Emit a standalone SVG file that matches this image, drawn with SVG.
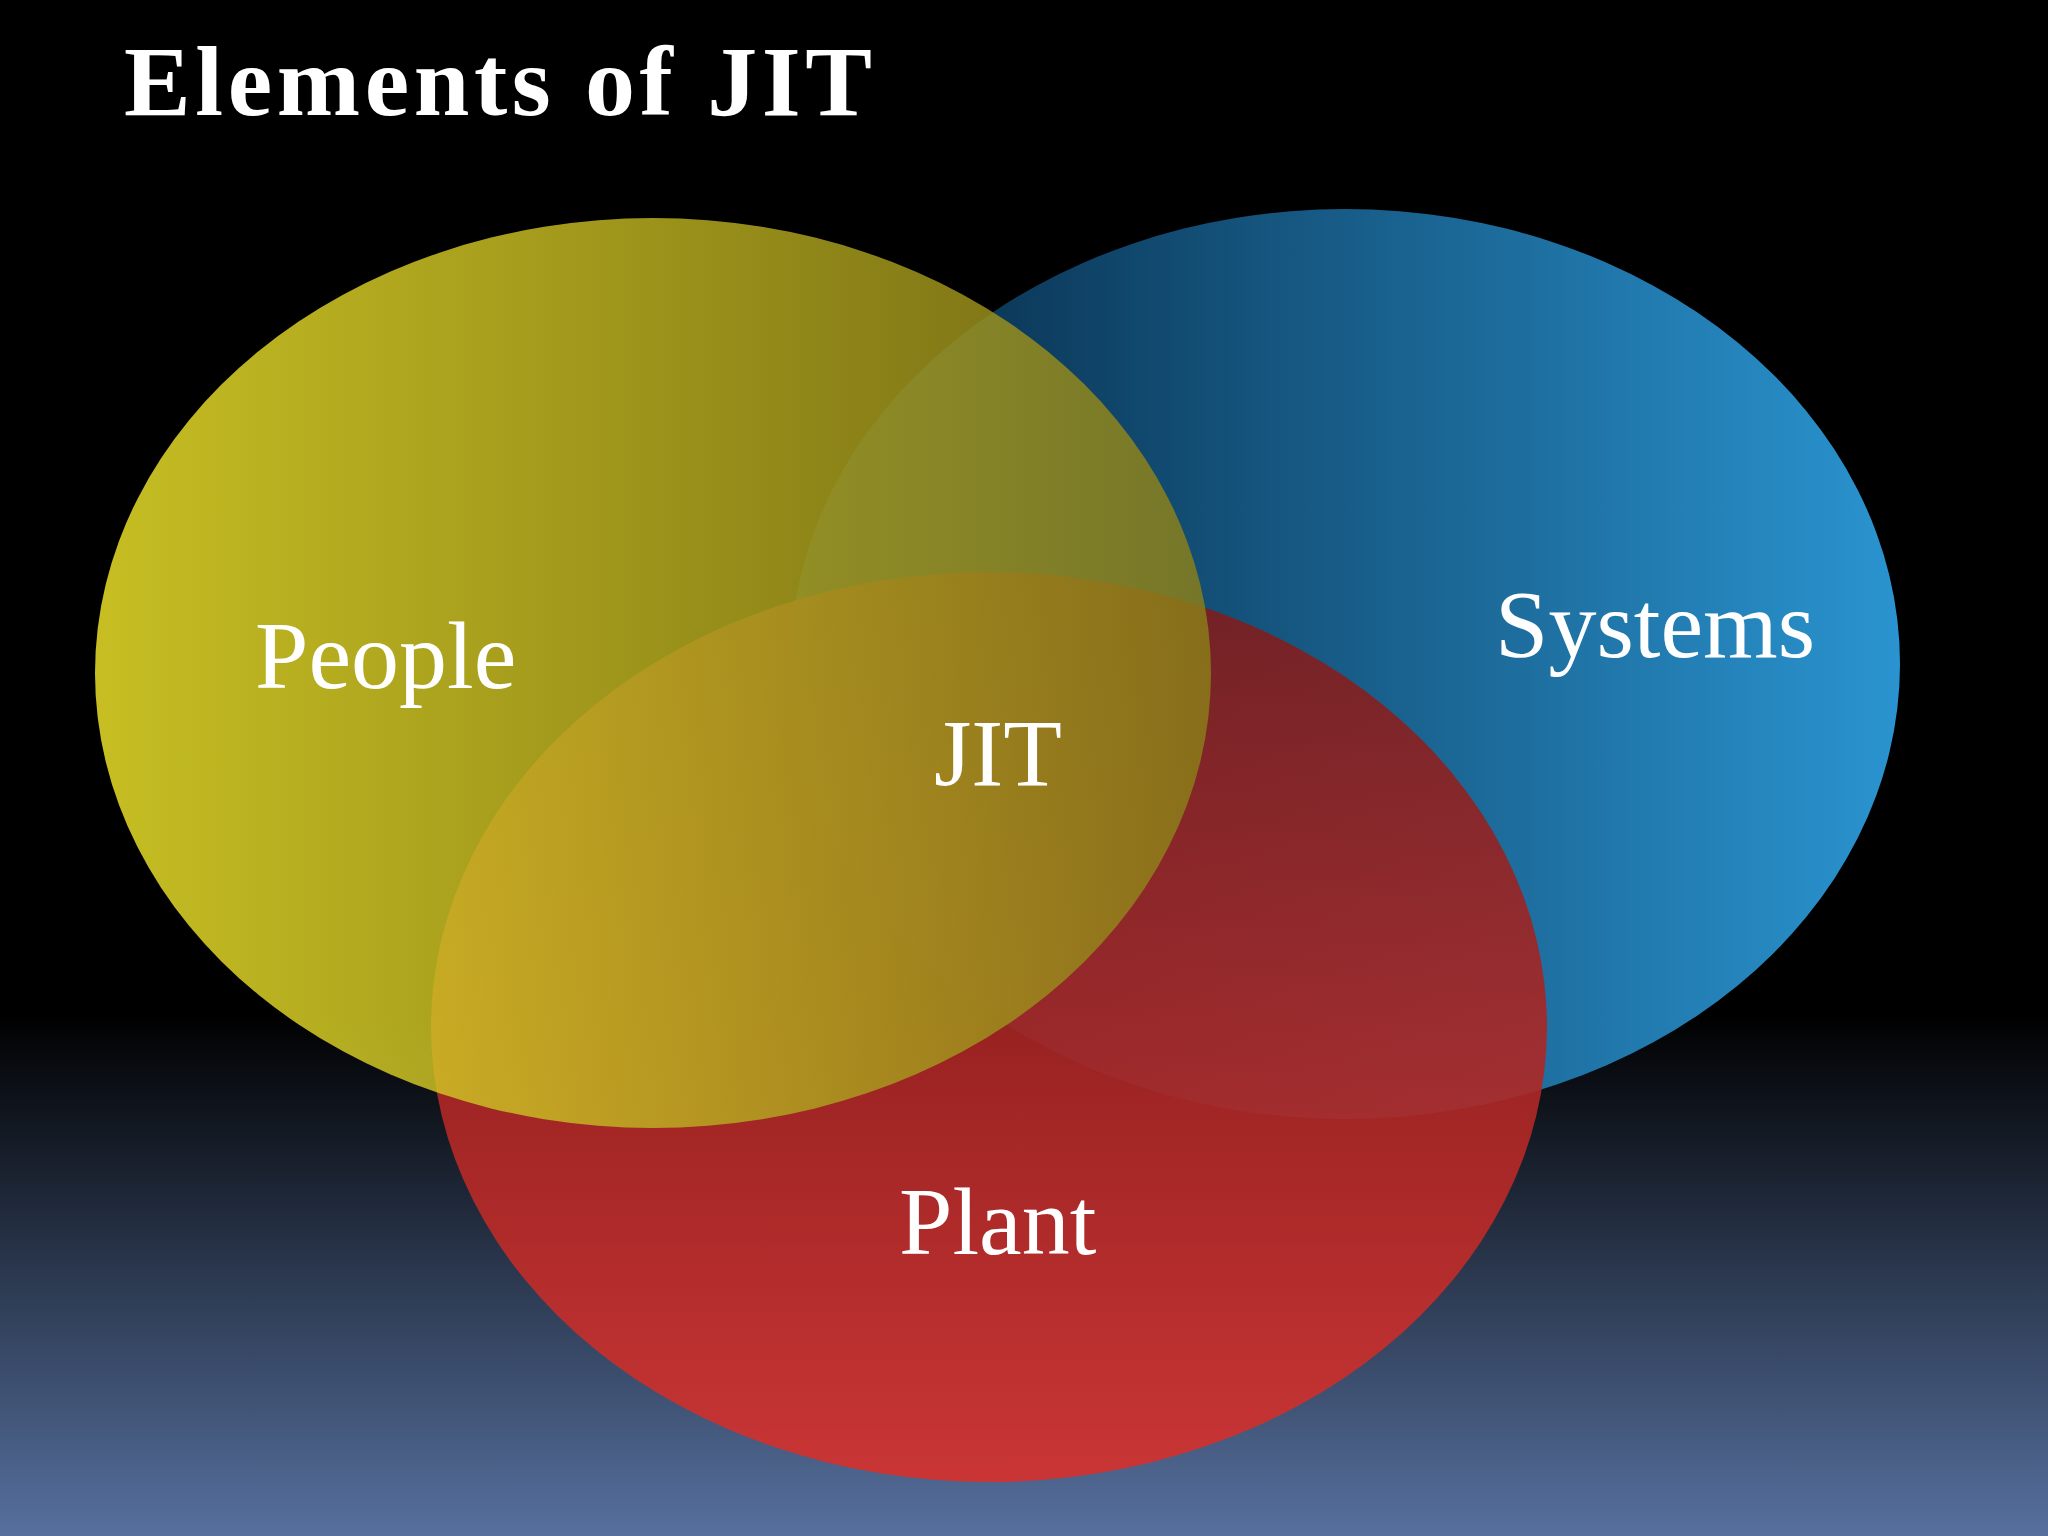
<svg xmlns="http://www.w3.org/2000/svg" width="2048" height="1536" viewBox="0 0 2048 1536">
<defs>
<linearGradient id="bg" x1="0" y1="0" x2="0" y2="1">
<stop offset="0" stop-color="#000"/><stop offset="0.66" stop-color="#000"/><stop offset="1" stop-color="#56709e"/>
</linearGradient>
<linearGradient id="gy" x1="0" y1="0" x2="1" y2="0">
<stop offset="0" stop-color="#f2e82a"/><stop offset="1" stop-color="#8a7e18"/>
</linearGradient>
<linearGradient id="gb" x1="0" y1="0" x2="1" y2="0">
<stop offset="0" stop-color="#052540"/><stop offset="1" stop-color="#2a94d0"/>
</linearGradient>
<linearGradient id="gr" x1="0" y1="0" x2="0" y2="1">
<stop offset="0" stop-color="#7a1c1c"/><stop offset="1" stop-color="#d8302c"/>
</linearGradient>
<style>.t{font-family:"Liberation Serif",serif;fill:#fff}</style>
</defs>
<rect width="2048" height="1536" fill="url(#bg)"/>
<g id="systems"><ellipse cx="1345" cy="664" rx="555" ry="455" fill="url(#gb)"/></g>
<g id="plant"><ellipse cx="989" cy="1027" rx="558" ry="455" fill="url(#gr)" opacity="0.9"/></g>
<g id="people"><ellipse cx="653" cy="673" rx="558" ry="455" fill="url(#gy)" opacity="0.82"/></g>
<text class="t" x="124" y="115" font-size="100" font-weight="bold" textLength="748">Elements of JIT</text>
<text class="t" x="255" y="688" font-size="96">People</text>
<text class="t" x="1495" y="657" font-size="96">Systems</text>
<text class="t" x="934" y="786" font-size="96">JIT</text>
<text class="t" x="899" y="1254" font-size="96">Plant</text>
</svg>
